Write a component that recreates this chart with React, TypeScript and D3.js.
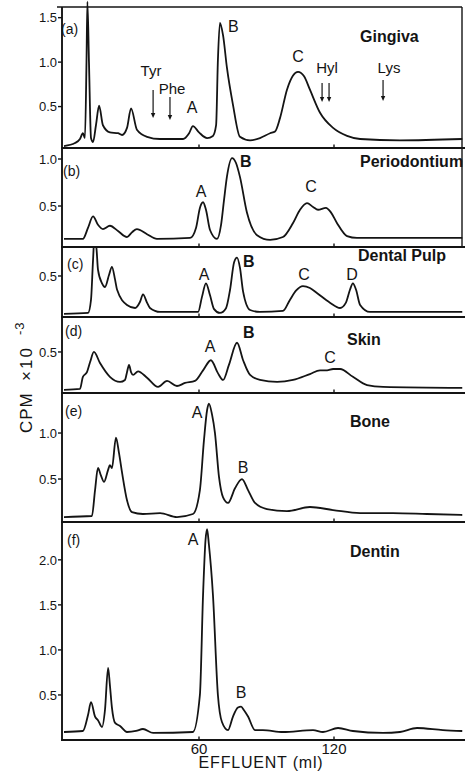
import React from 'react';
import * as d3 from 'd3';

type Pt = [number, number];

// effluent (ml), CPM x 10^-3
const gingiva: Pt[] = [
  [0, 0.056], [4.9, 0.09], [7.1, 0.135], [8.4, 0.2], [9.3, 0.146], [10.0, 1.0], [10.4, 1.68], [11.1, 1.0],
  [12.0, 0.146], [12.9, 0.1], [14.2, 0.29], [15.6, 0.51], [17.3, 0.29], [20.4, 0.21], [24.0, 0.2],
  [25.8, 0.18], [28.0, 0.26], [29.8, 0.48], [32.4, 0.24], [36.9, 0.16], [42.7, 0.135], [52.9, 0.135],
  [55.6, 0.2], [57.3, 0.28], [60.0, 0.21], [63.6, 0.146], [66.2, 0.17], [67.6, 0.29], [68.4, 1.02],
  [69.3, 1.44], [70.7, 1.3], [72.4, 0.94], [75.1, 0.52], [78.2, 0.16], [82.7, 0.12], [87.1, 0.146],
  [91.6, 0.2], [93.8, 0.22], [96.0, 0.37], [99.1, 0.69], [101.8, 0.85], [104.0, 0.89], [106.7, 0.84],
  [109.3, 0.69], [113.8, 0.43], [119.6, 0.26], [125.8, 0.17], [131.6, 0.135], [149.3, 0.12], [177, 0.135],
];

const periodontium: Pt[] = [
  [0, 0.15], [8.4, 0.15], [10.7, 0.27], [12.9, 0.39], [15.1, 0.3], [17.3, 0.255], [20.4, 0.29], [24.0, 0.234],
  [28.0, 0.17], [30.2, 0.22], [32.4, 0.255], [36.9, 0.2], [41.3, 0.15], [56.0, 0.16], [58.7, 0.27],
  [60.4, 0.48], [61.8, 0.54], [63.1, 0.46], [64.9, 0.245], [68.0, 0.15], [69.8, 0.3], [71.1, 0.56],
  [72.4, 0.81], [74.7, 1.01], [76.4, 0.96], [78.2, 0.81], [81.3, 0.43], [85.8, 0.19], [91.6, 0.14],
  [97.3, 0.17], [101.8, 0.32], [104.9, 0.46], [108.0, 0.53], [110.7, 0.49], [112.9, 0.46], [116.4, 0.48],
  [118.7, 0.43], [121.3, 0.32], [125.8, 0.18], [130.2, 0.16], [177, 0.16],
];

const dentalPulp: Pt[] = [
  [0, 0.087], [10.7, 0.098], [12.0, 0.24], [12.9, 0.67], [13.6, 0.95], [14.5, 0.78], [15.1, 0.57],
  [16.9, 0.42], [18.2, 0.38], [20.0, 0.51], [21.3, 0.6], [22.7, 0.46], [23.6, 0.35], [28.0, 0.185],
  [31.6, 0.152], [33.8, 0.22], [35.1, 0.3], [36.9, 0.21], [38.2, 0.152], [42.7, 0.109], [59.6, 0.109],
  [61.3, 0.27], [63.1, 0.42], [64.9, 0.29], [66.7, 0.14], [69.3, 0.098], [72.0, 0.15], [73.8, 0.35],
  [75.6, 0.65], [76.9, 0.7], [78.2, 0.59], [79.6, 0.33], [82.7, 0.13], [87.1, 0.109], [97.3, 0.12],
  [100.4, 0.24], [103.1, 0.34], [106.2, 0.39], [109.3, 0.37], [112.4, 0.315], [118.2, 0.21], [122.7, 0.152],
  [125.3, 0.21], [127.1, 0.35], [128.4, 0.42], [129.8, 0.35], [131.6, 0.185], [136.0, 0.109], [177, 0.109],
];

const skin: Pt[] = [
  [0, 0.087], [7.1, 0.098], [8.4, 0.23], [10.2, 0.28], [11.6, 0.39], [13.3, 0.5], [16.0, 0.38], [20.4, 0.23],
  [24.9, 0.174], [27.1, 0.196], [28.0, 0.28], [28.9, 0.36], [29.8, 0.28], [30.7, 0.25], [32.9, 0.29],
  [36.9, 0.22], [41.8, 0.12], [45.8, 0.185], [50.2, 0.13], [53.8, 0.163], [58.2, 0.185], [61.8, 0.3],
  [65.3, 0.41], [68.4, 0.27], [70.7, 0.196], [73.3, 0.36], [76.9, 0.6], [79.6, 0.41], [82.7, 0.25],
  [87.1, 0.196], [94.7, 0.174], [101.8, 0.196], [109.3, 0.26], [113.8, 0.3], [116.9, 0.3], [119.6, 0.315],
  [122.7, 0.315], [128.4, 0.23], [134.7, 0.14], [141.8, 0.12], [177, 0.109],
];

const bone: Pt[] = [
  [0, 0.087], [12.4, 0.098], [13.8, 0.38], [15.1, 0.62], [16.4, 0.54], [17.8, 0.47], [19.6, 0.6], [20.4, 0.65],
  [21.3, 0.62], [23.1, 0.95], [24.4, 0.79], [25.8, 0.57], [28.0, 0.27], [30.2, 0.14], [35.1, 0.12],
  [42.7, 0.13], [50.2, 0.087], [57.3, 0.12], [60.4, 0.38], [62.2, 0.92], [63.6, 1.25], [64.4, 1.32],
  [65.8, 1.2], [67.1, 1.0], [68.9, 0.52], [70.7, 0.3], [72.9, 0.24], [76.0, 0.4], [79.1, 0.5], [81.8, 0.38],
  [84.9, 0.24], [90.2, 0.174], [99.1, 0.152], [109.3, 0.196], [119.6, 0.163], [131.6, 0.13], [146.2, 0.13],
  [161.3, 0.12], [177, 0.109],
];

const dentin: Pt[] = [
  [0, 0.089], [8.4, 0.1], [10.7, 0.28], [12.0, 0.42], [13.8, 0.26], [15.1, 0.22], [16.9, 0.144], [18.2, 0.33],
  [19.6, 0.8], [20.4, 0.61], [21.3, 0.36], [22.7, 0.19], [24.9, 0.156], [28.0, 0.089], [32.0, 0.1],
  [35.1, 0.122], [39.6, 0.078], [57.3, 0.089], [60.4, 0.5], [61.8, 1.61], [62.9, 2.22], [63.6, 2.34],
  [64.4, 2.17], [66.2, 1.61], [68.4, 0.5], [70.2, 0.2], [72.9, 0.11], [75.1, 0.26], [77.3, 0.36], [78.7, 0.37],
  [80.0, 0.33], [81.8, 0.26], [84.9, 0.11], [88.4, 0.11], [97.3, 0.089], [110.7, 0.11], [115.1, 0.089],
  [121.8, 0.133], [128.4, 0.1], [141.8, 0.078], [149.3, 0.089], [156.9, 0.133], [168.4, 0.11], [177, 0.1],
];

const panelTags = ['(a)', '(b)', '(c)', '(d)', '(e)', '(f)'];
const tissueNames = ['Gingiva', 'Periodontium', 'Dental Pulp', 'Skin', 'Bone', 'Dentin'];
const yTicks = [[0.5, 1.0, 1.5], [0.5, 1.0], [0.5], [0.5], [0.5, 1.0], [0.5, 1.0, 1.5, 2.0]];
const xTicks = [60, 120];

// amino acid marker arrows in panel (a): [name, elution ml]
const markers: [string, number][] = [['Tyr', 39.6], ['Phe', 47.1], ['Hyl', 114.7], ['Hyl', 117.8], ['Lys', 141.8]];

const series = [gingiva, periodontium, dentalPulp, skin, bone, dentin];

// layout (pixels)
const layout = [
  { top: 7, bottom: 148, yMin: 0.034, yMax: 1.62, clipTop: 0, right: true },
  { top: 148, bottom: 247, yMin: 0.064, yMax: 1.117, clipTop: 148, right: true },
  { top: 247, bottom: 317, yMin: 0.054, yMax: 0.815, clipTop: 247, right: false },
  { top: 317, bottom: 393, yMin: 0.054, yMax: 0.88, clipTop: 317, right: false },
  { top: 393, bottom: 522, yMin: 0.033, yMax: 1.435, clipTop: 393, right: false },
  { top: 522, bottom: 740, yMin: 0, yMax: 2.42, clipTop: 522, right: false },
];
const tagPos = [[61, 34], [63, 176], [67, 269], [65, 336], [65, 416], [67, 545]];
const namePos = [[360, 42], [360, 167], [358, 261], [347, 345], [350, 427], [350, 557]];

// peak letter labels: [panel, text, x, y, bold, anchor]
const peakLabels: [number, string, number, number, boolean, string][] = [
  [0, 'A', 192, 113, false, 'middle'], [0, 'B', 228, 32, false, 'start'], [0, 'C', 298, 62, false, 'middle'],
  [1, 'A', 201, 197, false, 'middle'], [1, 'B', 240, 167, true, 'start'], [1, 'C', 311, 192, false, 'middle'],
  [2, 'A', 204, 280, false, 'middle'], [2, 'B', 243, 267, true, 'start'], [2, 'C', 304, 280, false, 'middle'], [2, 'D', 352, 280, false, 'middle'],
  [3, 'A', 210, 352, false, 'middle'], [3, 'B', 243, 338, true, 'start'], [3, 'C', 330, 363, false, 'middle'],
  [4, 'A', 197, 418, false, 'middle'], [4, 'B', 243, 473, false, 'middle'],
  [5, 'A', 193, 545, false, 'middle'], [5, 'B', 241, 698, false, 'middle'],
];
const markerLabels: [string, number, number][] = [['Tyr', 151, 76], ['Phe', 172, 94], ['Hyl', 327, 73], ['Lys', 389, 73]];
const markerSpans: [number, number][] = [[90, 118], [97, 120], [83, 102], [83, 102], [80, 101]];

const FONT = "'Liberation Sans', Arial, Helvetica, sans-serif";
const INK = '#141414';

export default function App() {
  const x = d3.scaleLinear().domain([0, 177]).range([64, 462.25]);
  const W = 465, H = 771;

  return (
    <svg width={W} height={H} style={{ position: 'absolute', left: 0, top: 0, background: '#fff' }}
      fontFamily={FONT}>
      <defs>
        {layout.map((l, i) => (
          <clipPath id={`clip${i}`} key={i}>
            <rect x={62} y={l.clipTop} width={W - 62} height={l.bottom - l.clipTop} />
          </clipPath>
        ))}
      </defs>
      <rect x={0} y={0} width={W} height={H} fill="#fff" />
      {layout.map((l, i) => {
        const y = d3.scaleLinear().domain([l.yMin, l.yMax]).range([l.bottom, l.top]);
        const line = d3.line<Pt>().x(d => x(d[0])).y(d => y(d[1])).curve(d3.curveMonotoneX);
        return (
          <g key={i}>
            <path d={line(series[i]) || ''} fill="none" stroke={INK} strokeWidth={1.8}
              strokeLinejoin="round" clipPath={`url(#clip${i})`} />
            <line x1={61} x2={W} y1={l.bottom} y2={l.bottom} stroke={INK} strokeWidth={1.9} />
            {l.right && <line x1={462} x2={462} y1={l.top} y2={l.bottom} stroke={INK} strokeWidth={1.4} />}
            {xTicks.map(t => (
              <line key={t} x1={x(t)} x2={x(t)} y1={l.bottom} y2={l.bottom - 3.5} stroke={INK} strokeWidth={1.4} />
            ))}
            {yTicks[i].map(t => (
              <g key={t}>
                <line x1={58} x2={62} y1={y(t)} y2={y(t)} stroke={INK} strokeWidth={1.4} />
                <text x={57} y={y(t)} dy="0.36em" textAnchor="end" fontSize={13} fill={INK}>{t.toFixed(1)}</text>
              </g>
            ))}
            <text x={tagPos[i][0]} y={tagPos[i][1]} fontSize={14} fill={INK}>{panelTags[i]}</text>
            <text x={namePos[i][0]} y={namePos[i][1]} fontSize={16} fontWeight="bold" fill={INK}>{tissueNames[i]}</text>
          </g>
        );
      })}
      <line x1={57} x2={462} y1={layout[0].top} y2={layout[0].top} stroke={INK} strokeWidth={1.6} />
      <line x1={62} x2={62} y1={layout[0].top} y2={740} stroke={INK} strokeWidth={1.9} />

      {peakLabels.map(([p, t, px, py, b, a], k) => (
        <text key={k} x={px} y={py} fontSize={16} fontWeight={b ? 'bold' : 'normal'} textAnchor={a} fill={INK}>{t}</text>
      ))}

      {markers.map(([n, ml], k) => {
        const ax = x(ml);
        const [y1, y2] = markerSpans[k];
        return (
          <g key={k}>
            <line x1={ax} x2={ax} y1={y1} y2={y2 - 3} stroke={INK} strokeWidth={1.2} />
            <path d={`M${ax - 2.2},${y2 - 5} L${ax + 2.2},${y2 - 5} L${ax},${y2} Z`} fill={INK} />
          </g>
        );
      })}
      {markerLabels.map(([t, px, py], k) => (
        <text key={k} x={px} y={py} fontSize={15} textAnchor="middle" fill={INK}>{t}</text>
      ))}

      {xTicks.map(t => (
        <text key={t} x={x(t)} y={754} fontSize={15} textAnchor="middle" fill={INK}>{t}</text>
      ))}
      <text x={261} y={768} fontSize={16} textAnchor="middle" letterSpacing={0.8} fill={INK}>EFFLUENT (ml)</text>

      {/* y axis title, reading upward */}
      <g transform="translate(32, 0) rotate(-90)">
        <text x={-433} y={0} fontSize={17} letterSpacing={1} fill={INK}>CPM</text>
        <text x={-381} y={0} fontSize={17} letterSpacing={2} fill={INK}>×10</text>
        <text x={-335} y={-8} fontSize={13} letterSpacing={1} fill={INK}>-3</text>
      </g>
    </svg>
  );
}
